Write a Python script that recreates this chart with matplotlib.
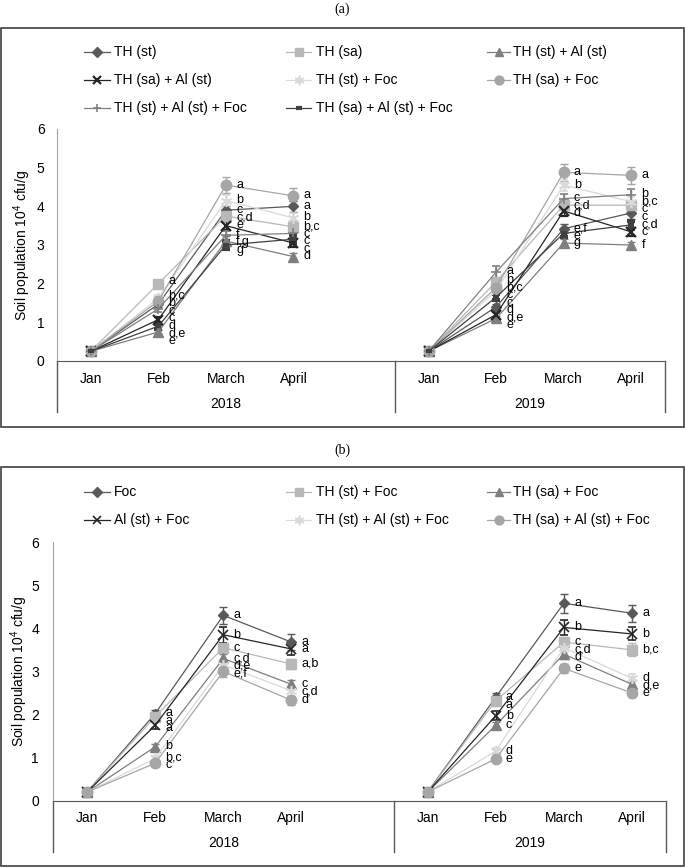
import matplotlib
matplotlib.use('Agg')
import matplotlib.pyplot as plt
import matplotlib.transforms as mtransforms
from matplotlib.lines import Line2D
from matplotlib.patches import Rectangle
import numpy as np

plt.rcParams['font.family'] = ['Liberation Sans', 'DejaVu Sans']
plt.rcParams['mathtext.fontset'] = 'custom'
plt.rcParams['mathtext.rm'] = 'Liberation Sans'
plt.rcParams['mathtext.it'] = 'Liberation Sans:italic'

# ---------------- data ----------------
months = ['Jan', 'Feb', 'March', 'April']
years = ['2018', '2019']
ylabel = 'Soil population 10$^{4}$ cfu/g'

# Panel (a)
a_names = ['TH (st)', 'TH (sa)', 'TH (st) + Al (st)', 'TH (sa) + Al (st)',
           'TH (st) + Foc', 'TH (sa) + Foc', 'TH (st) + Al (st) + Foc',
           'TH (sa) + Al (st) + Foc']
a_th_st_2018 = [0.25, 1.47, 3.90, 4.00]
a_th_st_2019 = [0.25, 1.40, 3.42, 3.83]
a_th_sa_2018 = [0.25, 2.00, 3.75, 3.47]
a_th_sa_2019 = [0.25, 2.05, 4.03, 4.03]
a_th_st_al_2018 = [0.25, 0.75, 3.10, 2.70]
a_th_st_al_2019 = [0.25, 1.10, 3.05, 3.00]
a_th_sa_al_2018 = [0.25, 1.07, 3.50, 3.05]
a_th_sa_al_2019 = [0.25, 1.20, 3.88, 3.34]
a_th_st_foc_2018 = [0.25, 1.62, 4.15, 3.70]
a_th_st_foc_2019 = [0.25, 1.82, 4.55, 4.12]
a_th_sa_foc_2018 = [0.25, 1.55, 4.55, 4.27]
a_th_sa_foc_2019 = [0.25, 1.90, 4.88, 4.80]
a_th_st_al_foc_2018 = [0.25, 1.35, 3.25, 3.30]
a_th_st_al_foc_2019 = [0.25, 2.30, 4.20, 4.30]
a_th_sa_al_foc_2018 = [0.25, 0.90, 3.00, 3.15]
a_th_sa_al_foc_2019 = [0.25, 1.65, 3.30, 3.52]

a_err_th_st = [0.02, 0.08, 0.12, 0.15, 0.02, 0.08, 0.12, 0.15]
a_err_th_sa = [0.02, 0.08, 0.15, 0.15, 0.02, 0.10, 0.12, 0.12]
a_err_th_st_al = [0.02, 0.06, 0.12, 0.10, 0.02, 0.06, 0.10, 0.08]
a_err_th_sa_al = [0.02, 0.06, 0.12, 0.10, 0.02, 0.08, 0.12, 0.10]
a_err_th_st_foc = [0.02, 0.08, 0.15, 0.12, 0.02, 0.10, 0.15, 0.12]
a_err_th_sa_foc = [0.02, 0.08, 0.20, 0.20, 0.02, 0.10, 0.22, 0.22]
a_err_th_st_al_foc = [0.02, 0.08, 0.12, 0.12, 0.02, 0.15, 0.12, 0.15]
a_err_th_sa_al_foc = [0.02, 0.06, 0.10, 0.10, 0.02, 0.08, 0.10, 0.10]

a_lab_th_st = ['', 'c', 'c', 'a', '', 'd', 'e,f', 'c']
a_lab_th_sa = ['', 'a', 'c,d', 'b,c', '', 'b', 'c,d', 'c']
a_lab_th_st_al = ['', 'e', 'f,g', 'd', '', 'e', 'g', 'f']
a_lab_th_sa_al = ['', 'd', 'e', 'c', '', 'd,e', 'd', 'c']
a_lab_th_st_foc = ['', 'b,c', 'b', 'b', '', 'c', 'b', 'b,c']
a_lab_th_sa_foc = ['', 'b', 'a', 'a', '', 'b,c', 'a', 'a']
a_lab_th_st_al_foc = ['', 'c', 'f', 'c', '', 'a', 'c', 'b']
a_lab_th_sa_al_foc = ['', 'd,e', 'g', 'c', '', 'c', 'e', 'c,d']

# Panel (b)
b_names = ['Foc', 'TH (st) + Foc', 'TH (sa) + Foc', 'Al (st) + Foc',
           'TH (st) + Al (st) + Foc', 'TH (sa) + Al (st) + Foc']
b_foc_2018 = [0.20, 2.02, 4.30, 3.68]
b_foc_2019 = [0.20, 2.40, 4.58, 4.35]
b_th_st_foc_2018 = [0.20, 1.95, 3.55, 3.17]
b_th_st_foc_2019 = [0.20, 2.32, 3.68, 3.50]
b_th_sa_foc_2018 = [0.20, 1.25, 3.30, 2.70]
b_th_sa_foc_2019 = [0.20, 1.75, 3.40, 2.70]
b_al_foc_2018 = [0.20, 1.75, 3.85, 3.52]
b_al_foc_2019 = [0.20, 1.97, 4.02, 3.87]
b_th_st_al_foc_2018 = [0.20, 0.98, 3.15, 2.55]
b_th_st_al_foc_2019 = [0.20, 1.15, 3.55, 2.84]
b_th_sa_al_foc_2018 = [0.20, 0.87, 3.00, 2.33]
b_th_sa_al_foc_2019 = [0.20, 0.97, 3.07, 2.50]

b_err_foc = [0.02, 0.08, 0.20, 0.18, 0.02, 0.10, 0.22, 0.20]
b_err_th_st_foc = [0.02, 0.08, 0.12, 0.12, 0.02, 0.12, 0.12, 0.15]
b_err_th_sa_foc = [0.02, 0.06, 0.10, 0.10, 0.02, 0.08, 0.12, 0.10]
b_err_al_foc = [0.02, 0.08, 0.18, 0.15, 0.02, 0.10, 0.18, 0.15]
b_err_th_st_al_foc = [0.02, 0.06, 0.12, 0.12, 0.02, 0.08, 0.12, 0.10]
b_err_th_sa_al_foc = [0.02, 0.05, 0.12, 0.10, 0.02, 0.05, 0.10, 0.10]

b_lab_foc = ['', 'a', 'a', 'a', '', 'a', 'a', 'a']
b_lab_th_st_foc = ['', 'a', 'c', 'a,b', '', 'a', 'c', 'b,c']
b_lab_th_sa_foc = ['', 'b', 'c,d', 'c', '', 'c', 'd', 'd,e']
b_lab_al_foc = ['', 'a', 'b', 'a', '', 'b', 'b', 'b']
b_lab_th_st_al_foc = ['', 'b,c', 'd,e', 'c,d', '', 'd', 'c,d', 'd']
b_lab_th_sa_al_foc = ['', 'c', 'e,f', 'd', '', 'e', 'e', 'e']

# ---------------- styles ----------------
W, H = 685, 867
fig = plt.figure(figsize=(W / 100, H / 100), dpi=100)

def px(x, y):
    return x / W, 1 - y / H

STAR = (6, 2, 0)
a_styles = [
    dict(color='#595959', marker='D', ms=5.5, mew=1),
    dict(color='#B8B8B8', marker='s', ms=7, mew=1),
    dict(color='#7F7F7F', marker='^', ms=7, mew=1),
    dict(color='#262626', marker='x', ms=7, mew=1.6),
    dict(color='#D9D9D9', marker=STAR, ms=8, mew=1.2),
    dict(color='#A6A6A6', marker='o', ms=7.5, mew=1),
    dict(color='#808080', marker='+', ms=7, mew=1.2),
    dict(color='#404040', marker='_', ms=5, mew=3),
]
b_styles = [
    dict(color='#595959', marker='D', ms=5.5, mew=1),
    dict(color='#B8B8B8', marker='s', ms=7, mew=1),
    dict(color='#7F7F7F', marker='^', ms=7, mew=1),
    dict(color='#262626', marker='x', ms=7, mew=1.2),
    dict(color='#D9D9D9', marker=STAR, ms=8, mew=1.2),
    dict(color='#A6A6A6', marker='o', ms=7.5, mew=1),
]

a_series = [
    (a_th_st_2018, a_th_st_2019, a_err_th_st, a_lab_th_st),
    (a_th_sa_2018, a_th_sa_2019, a_err_th_sa, a_lab_th_sa),
    (a_th_st_al_2018, a_th_st_al_2019, a_err_th_st_al, a_lab_th_st_al),
    (a_th_sa_al_2018, a_th_sa_al_2019, a_err_th_sa_al, a_lab_th_sa_al),
    (a_th_st_foc_2018, a_th_st_foc_2019, a_err_th_st_foc, a_lab_th_st_foc),
    (a_th_sa_foc_2018, a_th_sa_foc_2019, a_err_th_sa_foc, a_lab_th_sa_foc),
    (a_th_st_al_foc_2018, a_th_st_al_foc_2019, a_err_th_st_al_foc, a_lab_th_st_al_foc),
    (a_th_sa_al_foc_2018, a_th_sa_al_foc_2019, a_err_th_sa_al_foc, a_lab_th_sa_al_foc),
]
b_series = [
    (b_foc_2018, b_foc_2019, b_err_foc, b_lab_foc),
    (b_th_st_foc_2018, b_th_st_foc_2019, b_err_th_st_foc, b_lab_th_st_foc),
    (b_th_sa_foc_2018, b_th_sa_foc_2019, b_err_th_sa_foc, b_lab_th_sa_foc),
    (b_al_foc_2018, b_al_foc_2019, b_err_al_foc, b_lab_al_foc),
    (b_th_st_al_foc_2018, b_th_st_al_foc_2019, b_err_th_st_al_foc, b_lab_th_st_al_foc),
    (b_th_sa_al_foc_2018, b_th_sa_al_foc_2019, b_err_th_sa_al_foc, b_lab_th_sa_al_foc),
]

x2018 = np.arange(4)
x2019 = np.arange(4) + 5
xall = np.concatenate([x2018, x2019])


def spread(vals, d):
    vals = np.asarray(vals, float)
    order = np.argsort(-vals)
    v = vals[order]
    y = v.copy()
    for i in range(1, len(y)):
        y[i] = min(y[i], y[i - 1] - d)
    y = y + 0.35 * np.mean(v - y)
    for i in range(1, len(y)):
        y[i] = min(y[i], y[i - 1] - d)
    out = np.empty_like(y)
    out[order] = y
    return out


def draw_panel(ax, series, styles, unit_px, sep_bottom, month_y, year_y, ypad):
    for (v18, v19, err, lab), st in zip(series, styles):
        for xs, vs, es in ((x2018, v18, err[:4]), (x2019, v19, err[4:])):
            ax.errorbar(xs, vs, yerr=es, color=st['color'], lw=0.9,
                        marker=st['marker'], ms=st['ms'], mew=st['mew'],
                        mec=st['color'], mfc=st['color'],
                        ecolor=st['color'], elinewidth=1, capsize=3,
                        capthick=1, zorder=3)
    # data labels (letters), spread to limit overlap
    d = 7.5 / unit_px
    for j, xv in enumerate(xall):
        vals = [(s[0] + s[1])[j] for s in series]
        labs = [s[3][j] for s in series]
        if all(l == '' for l in labs):
            continue
        ys = spread(vals, d)
        for lab, yv in zip(labs, ys):
            ax.text(xv + 0.15, yv, lab, fontsize=9, va='center', ha='left',
                    zorder=5)
    ax.set_xlim(-0.5, 8.5)
    ax.set_ylim(0, 6)
    ax.set_yticks(range(7))
    ax.tick_params(axis='y', length=0, pad=ypad, labelsize=10)
    ax.set_xticks([])
    for s in ('top', 'right'):
        ax.spines[s].set_visible(False)
    ax.spines['left'].set_color('#A6A6A6')
    ax.spines['bottom'].set_color('#595959')
    tr = mtransforms.blended_transform_factory(ax.transData, ax.transAxes)
    for xv in (-0.5, 4.5, 8.5):
        ax.add_line(Line2D([xv, xv], [0, sep_bottom], transform=tr,
                           color='#595959', lw=1, clip_on=False))
    for xv, m in zip(xall, months * 2):
        ax.text(xv, month_y, m, transform=tr, ha='center', va='center',
                fontsize=10)
    ax.text(2, year_y, years[0], transform=tr, ha='center', va='center',
            fontsize=10)
    ax.text(6.5, year_y, years[1], transform=tr, ha='center', va='center',
            fontsize=10)
    ax.set_ylabel(ylabel, fontsize=10, va='center')


# Panel (a)
a_unit = (361 - 129) / 6
axa = fig.add_axes([57 / W, 1 - 361 / H, (665 - 57) / W, 232 / H])
draw_panel(axa, a_series, a_styles, a_unit, -(412 - 361) / 232,
           -(379 - 361) / 232, -(404 - 361) / 232, 9)
axa.yaxis.set_label_coords((22 - 57) / 608, 0.5)

# Panel (b)
b_unit = 43.1
axb = fig.add_axes([53 / W, 1 - 800.7 / H, (666 - 53) / W, 6 * b_unit / H])
draw_panel(axb, b_series, b_styles, b_unit, -(852 - 800.7) / (6 * b_unit),
           -(818 - 800.7) / (6 * b_unit), -(843 - 800.7) / (6 * b_unit), 10)
axb.yaxis.set_label_coords((19 - 53) / 613, 0.5)

# Frames and titles
for top, bot in ((28, 427), (467, 866)):
    x0, y0 = px(0.5, bot)
    fig.add_artist(Rectangle((x0, y0), 683.5 / W, (bot - top) / H,
                             transform=fig.transFigure, fill=False,
                             edgecolor='#404040', lw=1.2))
fig.text(*px(342, 9), '(a)', ha='center', va='center', fontsize=10,
         family=['Liberation Serif', 'DejaVu Serif'])
fig.text(*px(342, 450), '(b)', ha='center', va='center', fontsize=10,
         family=['Liberation Serif', 'DejaVu Serif'])

# Legends (drawn manually to mimic the evenly spaced columns)
col_line = [(84, 110), (286, 311), (487, 510)]
col_text = [114, 316, 513]


def draw_legend(names, styles, rows_y):
    for i, (name, st) in enumerate(zip(names, styles)):
        r, c = divmod(i, 3)
        y = rows_y[r]
        x0, x1 = col_line[c]
        fx0, fy = px(x0, y)
        fx1, _ = px(x1, y)
        fig.add_artist(Line2D([fx0, fx1], [fy, fy], transform=fig.transFigure,
                              color=st['color'], lw=0.9))
        fig.add_artist(Line2D([(fx0 + fx1) / 2], [fy], transform=fig.transFigure,
                              color=st['color'], marker=st['marker'],
                              ms=st['ms'] * 0.85, mew=st['mew'],
                              mec=st['color'], mfc=st['color'], lw=0))
        fig.text(*px(col_text[c], y), name, ha='left', va='center', fontsize=10)


draw_legend(a_names, a_styles, [52, 80, 108])
draw_legend(b_names, b_styles, [492, 520])

fig.savefig('out.png', dpi=100)
